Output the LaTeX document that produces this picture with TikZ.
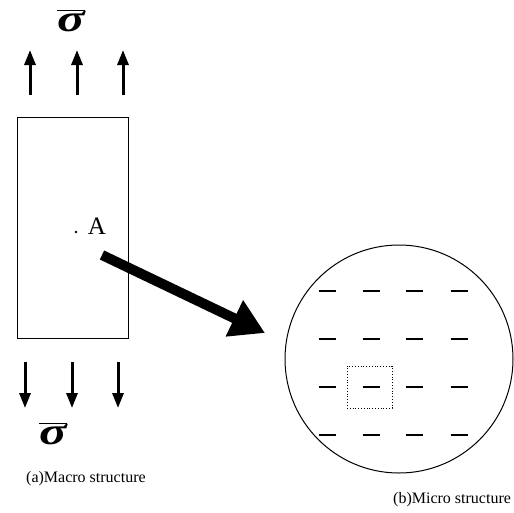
\documentclass[tikz,border=0pt]{standalone}
\usepackage{fontspec}
\setmainfont{Liberation Serif}
\usetikzlibrary{arrows.meta}
\newcommand{\sigbar}{$\overline{\mbox{\scalebox{1.6}[1.2]{\fontsize{32}{32}\selectfont\bfseries\itshape σ}}}$}
\begin{document}
\begin{tikzpicture}[x=1pt,y=-1pt,
  force/.style={line width=3pt,-{Triangle[length=15pt,width=11pt]}},
  bigarrow/.style={line width=10pt,-{Triangle[length=34pt,width=38pt]}},
  crack/.style={line width=1.1pt},
  caption/.style={font=\fontsize{16}{16}\selectfont, inner sep=0pt}]
\useasboundingbox (0,0) rectangle (514,512);

% macro specimen
\node[draw, line width=1pt, minimum width=111pt, minimum height=221pt,
      inner sep=0pt, anchor=north west] (body) at (17,117) {};

% applied stress, top
\node[inner sep=0pt] (sigtop) at (71,21) {\sigbar};
\foreach \x [count=\i] in {30,77,123} {
  \coordinate (ut\i) at (\x,95);
  \coordinate (uh\i) at (\x,50);
  \draw[force] (ut\i) -- (uh\i);
}

% applied stress, bottom
\foreach \x [count=\i] in {25,72,118} {
  \coordinate (dt\i) at (\x,362);
  \coordinate (dh\i) at (\x,408);
  \draw[force] (dt\i) -- (dh\i);
}
\node[inner sep=0pt] (sigbot) at (53,434) {\sigbar};

% material point A
\fill (76,232) circle (1.4pt);
\node[font=\fontsize{25}{25}\selectfont, inner sep=0pt] (ptA) at (97,226) {A};

% zoom into the microstructure
\node[draw, circle, line width=1pt, minimum size=228pt, inner sep=0pt] (cell) at (399,359) {};
\coordinate (zoomtail) at (102,255);
\coordinate (zoomtip) at (265,333);
\draw[bigarrow] (zoomtail) -- (zoomtip);

% cracks
\foreach \y in {291,339,387,435} {
  \foreach \x in {327,371,414,459} {
    \draw[crack] (\x-8.5,\y) -- (\x+8.5,\y);
  }
}

% representative volume element
\node[draw, dotted, line width=0.8pt, minimum width=45pt, minimum height=42pt,
      inner sep=0pt] (rve) at (369.5,387) {};

% captions
\node[caption, anchor=west] (capa) at (26,479) {(a)Macro structure};
\node[caption, anchor=west] (capb) at (393,500) {(b)Micro structure};
\end{tikzpicture}
\end{document}
